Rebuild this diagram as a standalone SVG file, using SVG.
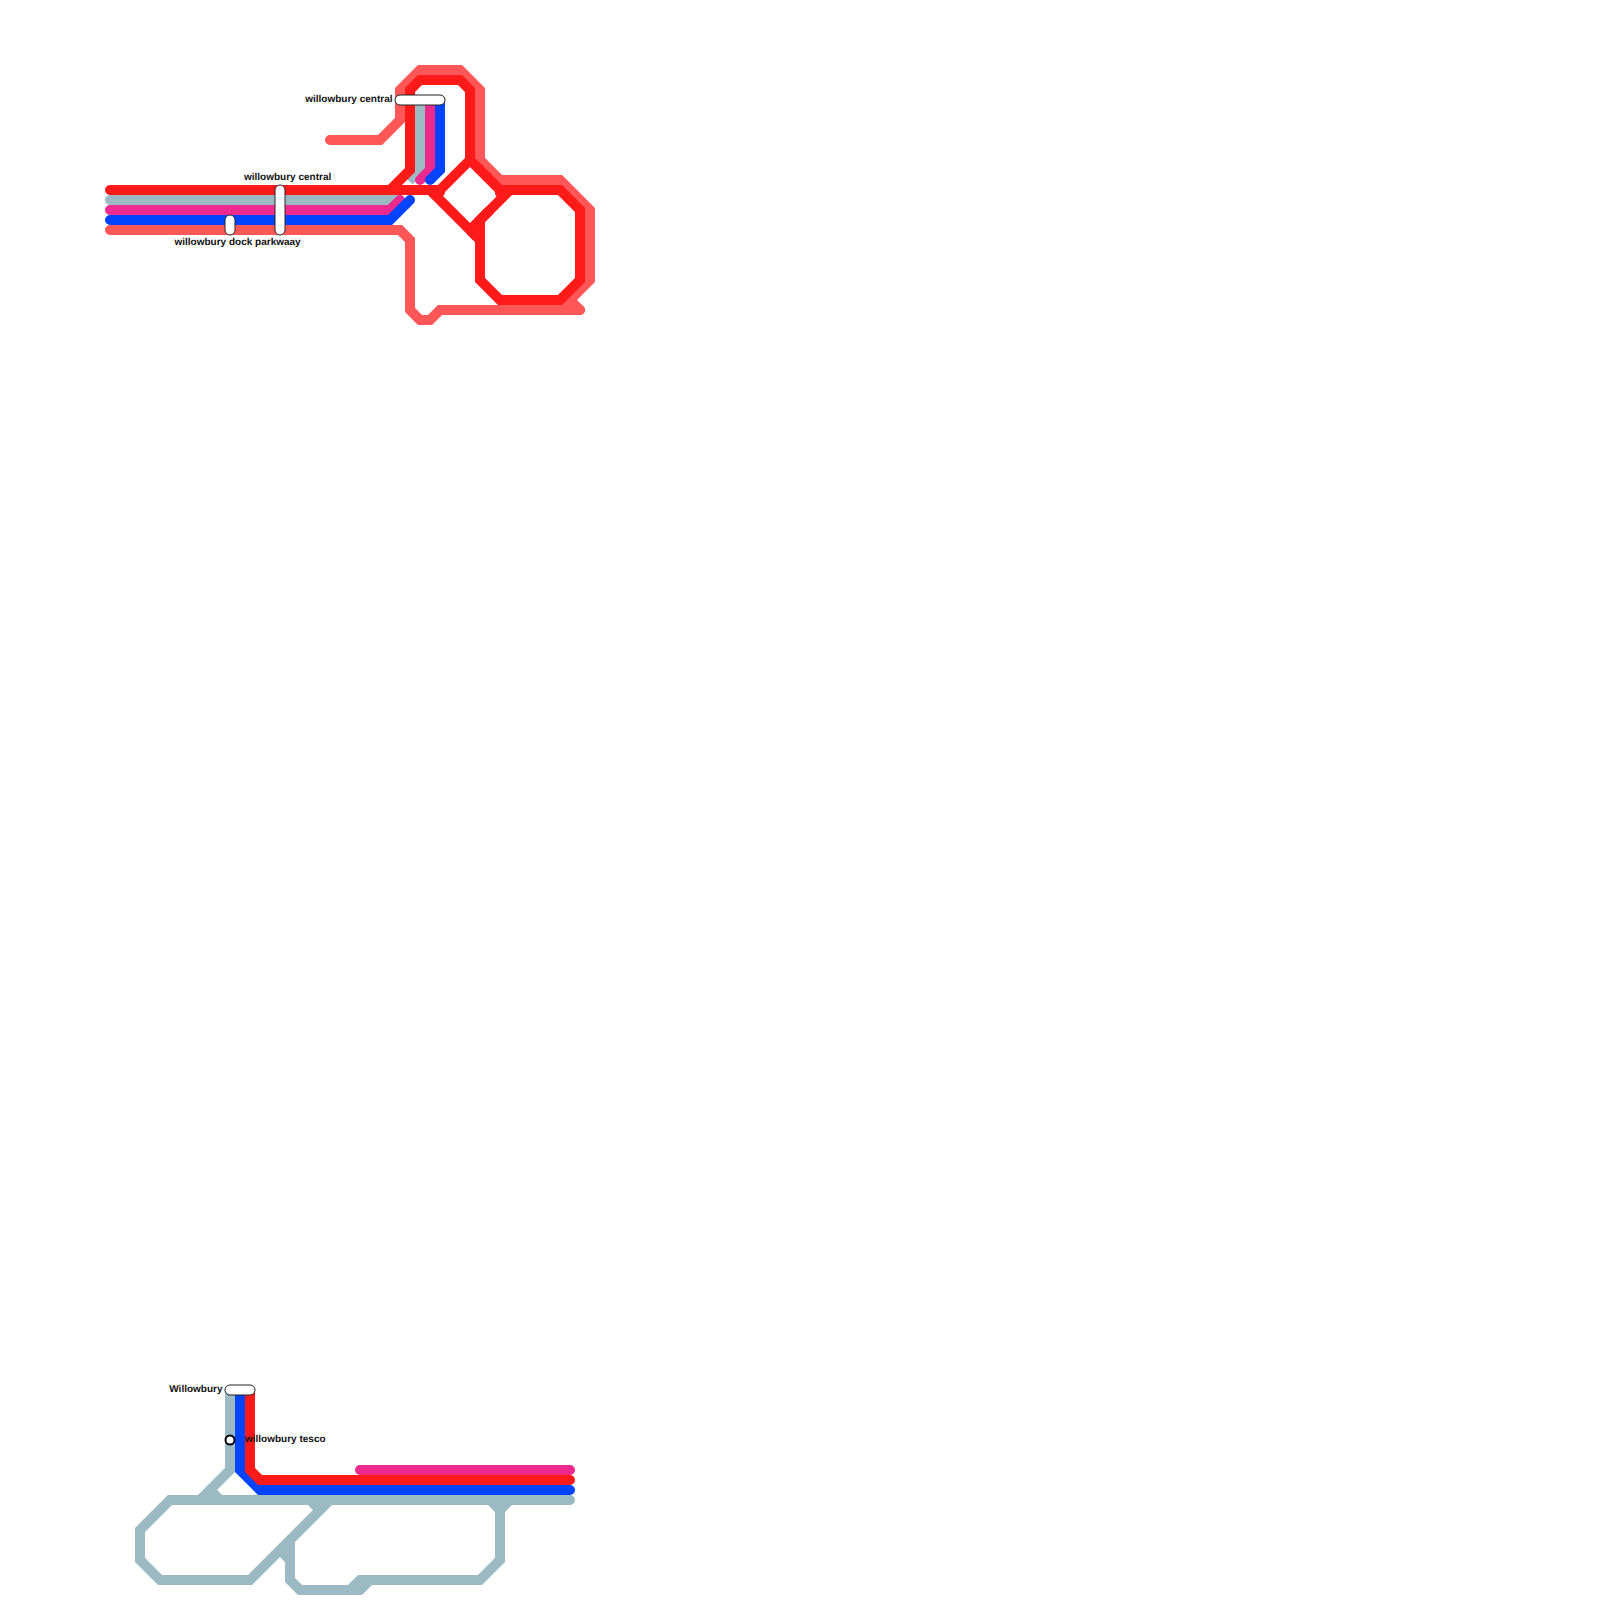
<svg xmlns="http://www.w3.org/2000/svg" width="1600" height="1600" viewBox="0 0 1600 1600">
<style>
.l{fill:none;stroke-width:10;stroke-linecap:round;stroke-linejoin:miter}
.b{stroke-linecap:butt}
.salmon{stroke:#ff5757}.red{stroke:#ff1a1a}.grey{stroke:#9cbac3}.mag{stroke:#ee2a8e}.blue{stroke:#0044ff}
.s{fill:#fff;stroke:#222;stroke-width:1}
.c{fill:#fff;stroke:#000;stroke-width:2}
text{font-family:"Liberation Sans",Arial,sans-serif;font-size:10px;font-weight:700;fill:#111;text-rendering:geometricPrecision}
</style>
<g id="connectors">
<path class="l salmon" d="M330 140H380L400 120V90L420 70H460L480 90V160L500 180H560L590 210V280L560 310"/>
<path class="l salmon" d="M110 230H400L410 240V310L420 320H430L440 310H580"/>
<path class="l salmon" d="M570 300L580 310"/>
<path class="l grey" d="M110 200H390L400 190"/>
<path class="l grey b" d="M409 181L420 170V100"/>
<path class="l mag" d="M110 210H390L400 200"/>
<path class="l mag" d="M420 180L430 170V100"/>
<path class="l blue" d="M110 220H390L410 200"/>
<path class="l blue" d="M430 180L440 170V100"/>
<path class="l red" d="M110 190H440V192"/>
<path class="l red b" d="M390 190L410 170V90L420 80H460L470 90V160L435 195"/>
<path class="l red b" d="M470 160L500 190"/>
<path class="l red" d="M500 193V190H560L580 210V280L560 300H500L480 280V220L510 190"/>
<path class="l red b" d="M490 210L470 230"/>
<path class="l red" d="M430 190L476 236"/>
<path class="l red b" d="M470 230L480 240"/>
<path class="l grey" d="M230 1390V1470L200 1500"/>
<path class="l grey b" d="M210 1490L220 1500"/>
<path class="l grey" d="M570 1500H170L140 1530V1560L160 1580H250L330 1500"/>
<path class="l grey b" d="M310 1500L320 1510"/>
<path class="l grey b" d="M290 1540V1580L300 1590H350L360 1580H480L500 1560V1510L490 1500"/>
<path class="l grey b" d="M280 1550L290 1560"/>
<path class="l grey b" d="M350 1590H360L370 1580"/>
<path class="l grey b" d="M500 1510L510 1500"/>
<path class="l blue" d="M240 1390V1470L260 1490H570"/>
<path class="l red" d="M250 1390V1470L260 1480H570"/>
<path class="l mag" d="M360 1470H570"/>
</g>
<g id="station-central-north"><rect class="s" x="395" y="95" width="50" height="10" rx="5"/><text x="392.500" y="102" text-anchor="end">willowbury central</text></g>
<g id="station-central-west"><rect class="s" x="275" y="185" width="10" height="50" rx="5"/><text x="244" y="180">willowbury central</text></g>
<g id="station-dock"><rect class="s" x="225" y="215" width="10" height="20" rx="5"/><text x="174.500" y="245">willowbury dock parkwaay</text></g>
<g id="station-willowbury"><rect class="s" x="225" y="1385" width="30" height="10" rx="5"/><text x="222.500" y="1392" text-anchor="end">Willowbury</text></g>
<g id="station-tesco"><circle class="c" cx="230" cy="1440" r="4.500"/><text x="245" y="1442">willowbury tesco</text></g>
</svg>
